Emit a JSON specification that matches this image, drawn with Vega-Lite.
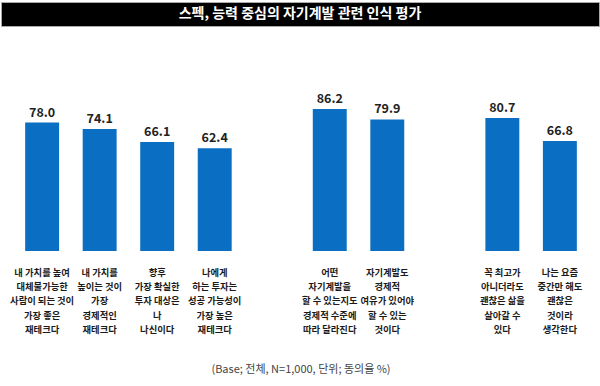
{
  "$schema": "https://vega.github.io/schema/vega-lite/v6.json",
  "padding": {"top": 1, "left": 0, "right": 0, "bottom": 0},
  "background": "white",
  "spacing": 0,
  "bounds": "flush",
  "config": {"view": {"stroke": null}, "font": "Noto Sans CJK KR"},
  "vconcat": [
    {
      "width": 598,
      "height": 24,
      "view": {"fill": "black", "stroke": "#aaaaaa", "strokeWidth": 1},
      "data": {"values": [{"t": "스펙, 능력 중심의 자기계발 관련 인식 평가"}]},
      "mark": {"type": "text", "color": "white", "fontSize": 14, "fontWeight": "bold", "font": "Noto Sans CJK KR"},
      "encoding": {"text": {"field": "t"}}
    },
    {
      "width": 600,
      "height": 225,
      "layer": [
        {
          "data": {"name": "bars", "values": [
            {"id": "q1", "value": 78.0, "label": "내 가치를 높여\n대체불가능한\n사람이 되는 것이\n가장 좋은\n재테크다"},
            {"id": "q2", "value": 74.1, "label": "내 가치를\n높이는 것이\n가장\n경제적인\n재테크다"},
            {"id": "q3", "value": 66.1, "label": "향후\n가장 확실한\n투자 대상은\n나\n나신이다"},
            {"id": "q4", "value": 62.4, "label": "나에게\n하는 투자는\n성공 가능성이\n가장 높은\n재테크다"},
            {"id": "q5", "value": 86.2, "label": "어떤\n자기계발을\n할 수 있는지도\n경제적 수준에\n따라 달라진다"},
            {"id": "q6", "value": 79.9, "label": "자기계발도\n경제적\n여유가 있어야\n할 수 있는\n것이다"},
            {"id": "q7", "value": 80.7, "label": "꼭 최고가\n아니더라도\n괜찮은 삶을\n살아갈 수\n있다"},
            {"id": "q8", "value": 66.8, "label": "나는 요즘\n중간만 해도\n괜찮은\n것이라\n생각한다"}
          ]},
          "layer": [
            {
              "mark": {"type": "bar", "color": "#0a6fc2"},
              "encoding": {
                "x": {"field": "id", "type": "nominal", "axis": null, "sort": null,
                  "scale": {"domain": ["q1", "q2", "q3", "q4", "s1", "q5", "q6", "s2", "q7", "q8"], "paddingInner": 0.41, "paddingOuter": 0.42}},
                "y": {"field": "value", "type": "quantitative", "axis": null, "scale": {"domain": [0, 136.6], "nice": false}}
              }
            },
            {
              "mark": {"type": "text", "baseline": "bottom", "dy": -3, "fontSize": 12.5, "fontWeight": "bold", "color": "#222222"},
              "encoding": {
                "x": {"field": "id", "type": "nominal"},
                "y": {"field": "value", "type": "quantitative"},
                "text": {"field": "value", "type": "quantitative", "format": ".1f"}
              }
            },
            {
              "mark": {"type": "text", "baseline": "middle", "dy": 22, "fontSize": 9.3, "lineHeight": 14.2, "lineBreak": "\n", "color": "#1a1a1a", "fontWeight": "bold"},
              "encoding": {
                "x": {"field": "id", "type": "nominal"},
                "y": {"datum": 0, "type": "quantitative"},
                "text": {"field": "label"}
              }
            }
          ]
        },
        {
          "data": {"values": [{"f": "(Base; 전체, N=1,000, 단위; 동의율 %)"}]},
          "mark": {"type": "text", "baseline": "middle", "dy": 119, "fontSize": 11, "color": "#444444"},
          "encoding": {
            "y": {"datum": 0, "type": "quantitative"},
            "text": {"field": "f"}
          }
        }
      ]
    }
  ]
}
